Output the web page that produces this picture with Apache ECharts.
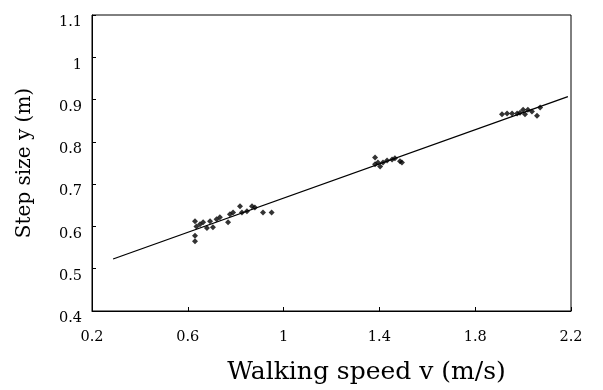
<!DOCTYPE html>
<html>
<head>
<meta charset="utf-8">
<script src="https://cdn.jsdelivr.net/npm/echarts@6/dist/echarts.min.js"></script>
<style>
  html, body { margin: 0; padding: 0; background: #fff; }
  #chart { width: 603px; height: 390px; }
</style>
</head>
<body>
<div id="chart"></div>
<script>
// measured steps (speed m/s, step size m)
var stepPoints = [
	[0.630, 0.565], [0.630, 0.578], [0.630, 0.612], [0.636, 0.600], [0.651, 0.605],
	[0.664, 0.610], [0.680, 0.596], [0.693, 0.612], [0.705, 0.598], [0.720, 0.617],
	[0.734, 0.622], [0.768, 0.610], [0.776, 0.629], [0.789, 0.633], [0.818, 0.648],
	[0.826, 0.633], [0.847, 0.636], [0.868, 0.648], [0.880, 0.645], [0.914, 0.633],
	[0.950, 0.633],
	[1.382, 0.763], [1.382, 0.747], [1.394, 0.751], [1.403, 0.742], [1.415, 0.751],
	[1.432, 0.756], [1.453, 0.758], [1.465, 0.761], [1.486, 0.754], [1.494, 0.751],
	[1.912, 0.865], [1.933, 0.867], [1.954, 0.867], [1.975, 0.867], [1.987, 0.869],
	[2.000, 0.876], [2.008, 0.865], [2.020, 0.876], [2.037, 0.872], [2.058, 0.862],
	[2.071, 0.881]
];
// fitted line ends
var fitLine = [[0.288, 0.523], [2.187, 0.907]];

var xTicks = { min: 0.2, max: 2.2, step: 0.4 };
var yTicks = { min: 0.4, max: 1.1, step: 0.1 };

var font = 'DejaVu Serif';
var chart = echarts.init(document.getElementById('chart'));

function fmt(v) { return +v.toFixed(1) + ''; }

var option = {
	animation: false,
	grid: {
		left: 92, right: 32, top: 15, bottom: 79,
		show: true, borderColor: '#000', borderWidth: 1
	},
	xAxis: {
		type: 'value',
		min: xTicks.min, max: xTicks.max, interval: xTicks.step,
		name: 'Walking speed v (m/s)',
		nameLocation: 'middle', nameGap: 49,
		nameTextStyle: {
			fontFamily: font, fontSize: 25, color: '#000',
			padding: [0, 0, 0, 70]
		},
		axisLine: { show: true, lineStyle: { color: '#000' } },
		axisTick: { inside: true, length: 4, lineStyle: { color: '#000' } },
		axisLabel: {
			fontFamily: font, fontSize: 14.5, color: '#000', margin: 19,
			formatter: fmt
		},
		splitLine: { show: false }
	},
	yAxis: {
		type: 'value',
		min: yTicks.min, max: yTicks.max, interval: yTicks.step,
		name: 'Step size y (m)',
		nameLocation: 'middle', nameGap: 57,
		nameTextStyle: { fontFamily: font, fontSize: 20, color: '#000' },
		axisLine: { show: true, lineStyle: { color: '#000' } },
		axisTick: { inside: true, length: 4, lineStyle: { color: '#000' } },
		axisLabel: {
			fontFamily: font, fontSize: 14.5, color: '#000', margin: 10,
			verticalAlign: 'top',
			formatter: fmt
		},
		splitLine: { show: false }
	},
	series: [
		{
			type: 'line',
			data: fitLine,
			symbol: 'none',
			lineStyle: { color: '#000', width: 1.3 },
			z: 2
		},
		{
			type: 'scatter',
			data: stepPoints,
			symbol: 'diamond',
			symbolSize: 6,
			itemStyle: { color: '#000' },
			z: 3
		}
	]
};

chart.setOption(option);
</script>
</body>
</html>
